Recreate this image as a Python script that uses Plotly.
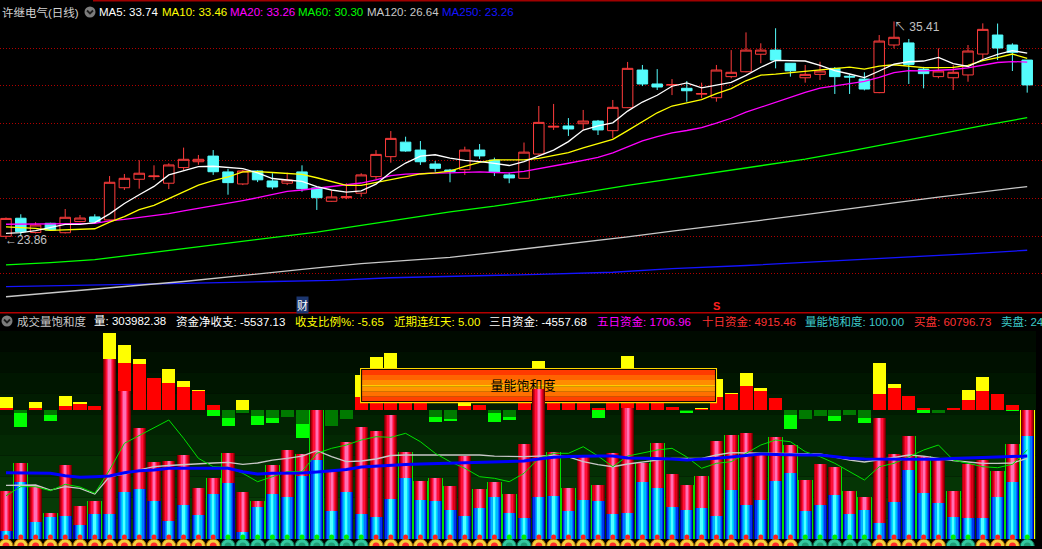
import plotly.graph_objects as go

W, H = 1042, 549
FONT = "Liberation Sans, Noto Sans CJK SC, sans-serif"

# ---------------- price panel ----------------
opens = [24.00, 24.96, 24.20, 24.69, 24.19, 24.78, 25.03, 24.87, 26.58, 27.03,
         27.17, 26.82, 27.65, 27.96, 28.26, 27.42, 26.78, 27.47, 26.94, 26.82,
         27.42, 26.57, 25.86, 26.05, 26.29, 27.17, 28.23, 29.00, 28.58, 27.84,
         27.52, 27.54, 28.58, 28.05, 27.26, 27.08, 28.37, 29.80, 29.86, 29.98,
         30.12, 29.61, 30.83, 32.83, 32.09, 32.03, 31.86, 31.55, 31.36, 32.48,
         32.74, 33.67, 33.89, 33.19, 32.42, 32.60, 32.92, 32.50, 32.35, 31.63,
         34.16, 34.27, 32.88, 32.48, 32.42, 32.57, 33.68, 34.69, 34.16, 33.36]
highs = [25.00, 25.17, 24.75, 24.72, 25.45, 25.13, 25.17, 27.20, 27.31, 28.04,
         27.77, 27.88, 28.71, 28.32, 28.58, 27.58, 27.52, 27.50, 27.35, 27.38,
         27.77, 26.60, 26.42, 26.82, 27.35, 28.58, 29.59, 29.29, 29.06, 28.00,
         27.58, 28.76, 28.90, 28.18, 27.38, 28.98, 30.92, 31.03, 30.28, 30.71,
         30.18, 31.24, 33.26, 33.10, 32.88, 32.35, 32.25, 32.16, 33.10, 33.89,
         34.83, 34.25, 35.05, 33.19, 33.10, 33.27, 32.99, 32.60, 32.71, 34.69,
         35.41, 34.48, 33.00, 33.98, 33.10, 34.16, 35.31, 35.30, 34.25, 33.36]
lows = [23.86, 24.00, 24.15, 24.30, 24.15, 24.75, 24.74, 24.85, 26.46, 26.53,
        26.99, 26.51, 27.52, 27.80, 27.26, 26.21, 26.72, 26.88, 26.50, 26.72,
        26.37, 25.40, 25.84, 25.97, 26.10, 26.99, 27.91, 28.49, 27.79, 27.43,
        26.87, 27.26, 28.11, 27.20, 26.82, 27.06, 28.32, 29.65, 29.33, 29.65,
        29.38, 29.20, 30.81, 31.98, 31.77, 31.50, 31.15, 31.33, 31.15, 32.39,
        32.71, 33.19, 32.92, 32.48, 32.16, 32.30, 31.56, 31.56, 31.75, 31.60,
        33.98, 32.09, 31.86, 32.39, 31.77, 32.21, 33.36, 33.36, 32.78, 31.63]
closes = [24.95, 24.25, 24.60, 24.33, 25.01, 24.97, 24.76, 26.87, 27.08, 27.35,
          27.20, 27.79, 28.09, 28.09, 27.43, 26.85, 27.47, 27.00, 26.62, 26.99,
          26.53, 26.05, 26.09, 26.10, 27.26, 28.35, 29.20, 28.53, 27.96, 27.61,
          27.45, 28.58, 28.27, 27.42, 27.10, 28.47, 30.05, 29.84, 29.70, 30.12,
          29.65, 30.85, 32.92, 32.09, 31.93, 32.06, 31.73, 31.58, 32.83, 32.71,
          33.89, 33.89, 33.36, 32.79, 32.60, 32.78, 32.48, 32.46, 31.82, 34.37,
          34.57, 33.13, 32.64, 32.78, 32.71, 33.84, 34.99, 34.00, 33.77, 32.04]

ma5 = [24.16, 24.20, 24.30, 24.46, 24.63, 24.63, 24.73, 25.19, 25.74, 26.21,
       26.65, 27.26, 27.50, 27.70, 27.72, 27.65, 27.59, 27.37, 27.07, 26.99,
       26.92, 26.64, 26.46, 26.35, 26.41, 26.77, 27.40, 27.89, 28.26, 28.33,
       28.15, 28.03, 27.97, 27.87, 27.76, 27.97, 28.26, 28.58, 29.03, 29.64,
       29.87, 30.03, 30.65, 31.13, 31.49, 31.97, 32.15, 31.88, 32.03, 32.18,
       32.55, 32.98, 33.34, 33.33, 33.31, 33.08, 32.80, 32.62, 32.43, 32.78,
       33.14, 33.27, 33.31, 33.50, 33.17, 33.02, 33.39, 33.66, 33.86, 33.73]
ma10 = [24.50, 24.47, 24.42, 24.32, 24.34, 24.36, 24.40, 24.75, 25.05, 25.42,
        25.64, 26.00, 26.35, 26.72, 26.96, 27.15, 27.42, 27.44, 27.39, 27.35,
        27.29, 27.11, 26.91, 26.71, 26.70, 26.85, 27.02, 27.17, 27.31, 27.37,
        27.46, 27.71, 27.93, 28.06, 28.05, 28.06, 28.14, 28.28, 28.45, 28.70,
        28.92, 29.15, 29.61, 30.08, 30.56, 30.92, 31.09, 31.26, 31.58, 31.84,
        32.26, 32.56, 32.61, 32.68, 32.74, 32.82, 32.89, 32.98, 32.88, 33.04,
        33.11, 33.04, 32.96, 32.96, 32.97, 33.08, 33.33, 33.49, 33.68, 33.45]
ma20 = [24.64, 24.64, 24.64, 24.65, 24.66, 24.67, 24.69, 24.82, 24.90, 25.00,
        25.10, 25.20, 25.35, 25.48, 25.62, 25.75, 25.90, 26.05, 26.20, 26.39,
        26.46, 26.55, 26.63, 26.72, 26.83, 27.00, 27.22, 27.30, 27.35, 27.36,
        27.37, 27.41, 27.42, 27.39, 27.37, 27.45, 27.58, 27.72, 27.88, 28.03,
        28.19, 28.43, 28.77, 29.07, 29.30, 29.49, 29.62, 29.77, 30.01, 30.27,
        30.59, 30.86, 31.11, 31.38, 31.65, 31.87, 31.99, 32.12, 32.23, 32.44,
        32.69, 32.80, 32.79, 32.82, 32.86, 32.95, 33.11, 33.23, 33.28, 33.25]

long_idx = [0, 3, 6, 9, 12, 15, 18, 21, 24, 27, 30, 33, 36, 39, 42, 45, 48, 51, 54, 57, 60, 63, 66, 69]
ma60 = [22.48, 22.60, 22.76, 23.05, 23.35, 23.62, 23.95, 24.22, 24.58, 24.95, 25.30, 25.60,
        25.95, 26.32, 26.70, 27.05, 27.40, 27.75, 28.10, 28.52, 28.98, 29.45, 29.88, 30.30]
ma120 = [20.79, 20.98, 21.20, 21.40, 21.60, 21.85, 22.10, 22.32, 22.55, 22.70, 22.88, 23.15,
         23.42, 23.68, 23.97, 24.27, 24.55, 24.85, 25.15, 25.48, 25.78, 26.08, 26.35, 26.64]
ma250_idx = [0, 6, 12, 18, 22, 26, 32, 36, 41, 45, 50, 55, 60, 65, 69]
ma250 = [21.33, 21.40, 21.50, 21.60, 21.66, 21.80, 21.89, 21.98, 22.09, 22.28, 22.45, 22.65,
         22.85, 23.07, 23.26]

# ---------------- volume panel (万手) ----------------
vol = [11.31, 17.91, 12.49, 6.13, 17.43, 7.77, 8.95, 42.41, 34.87, 26.08,
       18.14, 18.38, 19.79, 12.02, 14.37, 20.26, 11.07, 8.95, 17.43, 20.97,
       20.03, 30.39, 15.86, 22.85, 26.39, 25.44, 29.21, 20.50, 13.66, 14.37,
       12.49, 19.63, 11.78, 13.43, 10.67, 22.38, 35.34, 20.50, 12.02, 19.39,
       12.72, 20.26, 30.86, 17.91, 22.62, 15.31, 12.72, 14.84, 23.09, 24.50,
       24.97, 19.86, 24.03, 22.15, 13.90, 17.67, 16.96, 11.31, 9.90, 28.51,
       20.03, 24.27, 19.55, 19.08, 11.31, 17.67, 18.61, 16.02, 22.38, 30.40]
sell = [1.96, 13.50, 4.08, 5.25, 5.49, 3.30, 5.96, 5.96, 11.14, 11.78,
        8.95, 4.24, 8.01, 5.65, 10.67, 13.19, 1.72, 7.54, 10.67, 9.90,
        14.91, 18.61, 6.60, 11.07, 5.89, 5.18, 9.42, 14.44, 9.19, 8.95,
        6.83, 5.42, 7.37, 9.97, 6.20, 5.02, 9.90, 10.20, 6.60, 9.19,
        8.95, 5.96, 6.20, 13.50, 12.09, 7.54, 6.83, 7.30, 5.49, 11.54,
        8.01, 9.19, 13.66, 15.55, 6.60, 8.01, 10.37, 5.89, 6.83, 3.77,
        8.72, 16.33, 10.84, 8.48, 5.18, 4.95, 4.95, 9.90, 13.50, 24.32]
vol_ma_blue = [15.62, 15.62, 15.62, 15.48, 14.91, 14.54, 14.68, 14.84, 15.62, 16.09,
               16.26, 16.66, 16.66, 16.66, 16.66, 16.66, 15.86, 15.31, 15.48, 15.48,
               15.55, 15.79, 16.09, 16.37, 16.96, 17.20, 17.43, 17.55, 17.67, 17.79,
               17.91, 18.02, 18.14, 18.26, 18.33, 18.38, 18.85, 19.25, 19.44, 19.55,
               19.55, 19.55, 19.08, 19.01, 19.01, 18.85, 18.61, 18.73, 19.01, 19.32,
               19.67, 20.03, 19.91, 19.79, 19.79, 19.79, 19.32, 19.01, 18.85, 18.85,
               18.85, 18.85, 18.85, 18.78, 18.97, 19.08, 19.15, 19.32, 19.44, 19.55]
vol_ma_gray = [12.65, 12.65, 12.72, 11.54, 12.32, 11.94, 10.60, 14.68, 15.31, 16.26,
               17.03, 17.32, 17.55, 17.83, 17.91, 18.07, 17.60, 17.91, 18.61, 19.01,
               19.55, 20.80, 19.39, 18.21, 18.38, 18.85, 19.67, 19.79, 19.79, 19.79,
               19.86, 19.96, 19.79, 19.55, 19.44, 19.39, 19.55, 19.72, 19.32, 18.21,
               17.55, 17.03, 17.67, 18.21, 18.61, 19.01, 18.97, 19.01, 19.79, 20.33,
               20.26, 20.19, 20.14, 20.10, 20.03, 20.03, 19.32, 18.61, 18.14, 18.61,
               19.20, 19.79, 19.55, 18.97, 18.45, 18.14, 17.83, 17.83, 17.91, 19.01]
vol_ma_green = [10.20, 12.32, 12.32, 11.38, 12.89, 12.25, 10.77, 16.26, 22.55, 24.34,
                26.08, 28.04, 23.72, 19.01, 17.03, 16.89, 15.48, 13.50, 14.68, 15.86,
                15.86, 20.19, 21.37, 22.15, 23.32, 24.10, 23.96, 24.90, 22.92, 20.19,
                18.21, 16.66, 14.68, 14.30, 13.50, 15.48, 19.01, 20.19, 20.19, 21.75,
                19.55, 17.03, 19.55, 20.33, 20.97, 21.37, 19.32, 16.66, 17.83, 18.21,
                20.19, 22.15, 23.32, 22.92, 20.57, 19.39, 17.83, 15.86, 13.90, 17.03,
                17.83, 19.39, 20.97, 22.15, 18.61, 17.83, 17.03, 16.80, 17.60, 20.97]

# fund flow (资金), two series around a common baseline
flow_net = [150, -300, 150, -500, 400, 600, 400, 4000, 4700, 4600,
            3200, 2730, 2300, 1900, 500, -800, -300, -600, -800, -700,
            -1400, -1000, -1600, -900, 1330, 2500, 2500, 1500, 1200, -730,
            -870, 430, 500, -270, -730, 1000, 3000, 1200, 1000, 1000,
            200, 1200, 3000, 1200, 1200, 300, -100, 50, 1330, 1600,
            2400, 1900, 1200, -500, -900, -600, -570, -500, -800, 1600,
            2200, 1400, 200, -300, 200, 1000, 1900, 1600, 500, -5537]
flow_aux = [1300, -1670, 800, -1070, 1400, 830, 0, 7670, 6500, 5100,
            0, 4100, 2900, 2000, -600, -1600, 1000, -1500, -1300, 0,
            -2770, 0, 0, 0, 3500, 5330, 5700, 0, 0, -1170,
            -1070, 1000, 0, -1170, -1000, 0, 4930, 0, 0, 0,
            -800, 0, 5400, 0, 0, 0, -300, 150, 3100, 1730,
            3700, 2200, 0, -1900, 0, 0, -1100, 0, -1300, 4700,
            2600, 0, -300, 0, 250, 2000, 3300, 0, -100, 0]

# days whose volume bar has a green edge, and the marker row state (1 = red, 0 = green)
down_days = [1, 3, 5, 6, 14, 15, 17, 18, 20, 21, 27, 28, 29, 30, 32, 33, 34, 37, 38, 40,
             43, 44, 46, 47, 49, 52, 53, 54, 56, 57, 58, 61, 62, 64, 67, 68]
trend = [1, 1, 1, 1, 1, 1, 1, 1, 1, 1, 1, 1, 1, 1, 1, 0, 0, 0, 0, 0,
         0, 0, 0, 0, 0, 1, 1, 1, 1, 1, 1, 1, 1, 1, 0, 0, 1, 1, 1, 1,
         1, 1, 1, 1, 1, 1, 1, 1, 1, 1, 1, 1, 1, 1, 0, 0, 0, 0, 0, 1,
         1, 1, 1, 1, 0, 0, 1, 1, 1, 0]

days = list(range(len(closes)))


def fx(p):
    return p / W


def fy(p):
    return 1 - p / H


fig = go.Figure()

# ---- candles + moving averages ----
fig.add_trace(go.Candlestick(
    x=days, open=opens, high=highs, low=lows, close=closes,
    increasing=dict(line=dict(color="#ff3c3c", width=1), fillcolor="#000000"),
    decreasing=dict(line=dict(color="#54fcfc", width=1), fillcolor="#54fcfc"),
    whiskerwidth=0, xaxis="x", yaxis="y"))

for xs, vals, color in [(ma250_idx, ma250, "#1414ff"), (long_idx, ma120, "#c8c8c8"),
                        (long_idx, ma60, "#00ff00"), (days, ma20, "#ff00ff"),
                        (days, ma10, "#ffff00"), (days, ma5, "#ffffff")]:
    fig.add_trace(go.Scatter(x=xs, y=vals, mode="lines", line=dict(color=color, width=1.3),
                             xaxis="x", yaxis="y"))

# ---- fund flow bars (behind everything else in the lower panel) ----
fig.add_trace(go.Bar(x=days, y=flow_aux, width=0.88,
                     marker=dict(color=["#ffff00" if v >= 0 else "#00ff00" for v in flow_aux], line_width=0),
                     xaxis="x2", yaxis="y2"))
fig.add_trace(go.Bar(x=days, y=flow_net, width=0.88,
                     marker=dict(color=["#ff0000" if v >= 0 else "#007a00" for v in flow_net], line_width=0),
                     xaxis="x2", yaxis="y2"))

# ---- the orange label box ----
box_l, box_r = 23.92, 48.04


def rect(x0, x1, y0, y1, color):
    fig.add_trace(go.Scatter(x=[x0, x1, x1, x0, x0], y=[y0, y0, y1, y1, y0], mode="lines",
                             fill="toself", fillcolor=color, line=dict(width=0, color=color),
                             xaxis="x2", yaxis="y2"))


rect(box_l, box_r, 680, 4200, "#ffd800")
rect(box_l + 0.07, box_r - 0.07, 790, 4100, "#140800")
stripes = [(3500, 4000, "#ff3a00"), (3000, 3500, "#ff6400"), (2500, 3000, "#ff8c00"),
           (2330, 2500, "#ffcc00"), (1830, 2330, "#ff9400"), (1330, 1830, "#ff7000"),
           (900, 1330, "#ff4000")]
for y0, y1, c in stripes:
    rect(box_l + 0.14, box_r - 0.14, y0, y1, c)
fig.add_trace(go.Scatter(x=[34.93], y=[2300], mode="text", text=["量能饱和度"],
                         textfont=dict(size=13, color="#000000", family="Noto Sans CJK SC"),
                         xaxis="x2", yaxis="y2"))

# ---- volume cylinders ----
fig.add_trace(go.Bar(x=down_days, y=[vol[i] for i in down_days], width=0.99,
                     marker=dict(color="#00e000", line_width=0), xaxis="x2", yaxis="y3"))
fig.add_trace(go.Bar(x=[days[-1]], y=[vol[-1]], width=0.99,
                     marker=dict(color="#ffff00", line_width=0), xaxis="x2", yaxis="y3"))
red_layers = [(0.88, "#6e0000"), (0.76, "#a8000c"), (0.62, "#dc0018"),
              (0.46, "#ff1038"), (0.30, "#ff3c78"), (0.15, "#ff70b4")]
blue_layers = [(0.88, "#0000a8"), (0.74, "#0038f0"), (0.58, "#0078ff"),
               (0.42, "#00b4ff"), (0.26, "#00e0ff"), (0.12, "#50ffff")]
for w, c in red_layers:
    fig.add_trace(go.Bar(x=days, y=vol, width=w, marker=dict(color=c, line_width=0),
                         xaxis="x2", yaxis="y3"))
for w, c in blue_layers:
    fig.add_trace(go.Bar(x=days, y=sell, width=w, marker=dict(color=c, line_width=0),
                         xaxis="x2", yaxis="y3"))

fig.add_trace(go.Scatter(x=days, y=vol_ma_gray, mode="lines", line=dict(color="#c8c8c8", width=1.3),
                         xaxis="x2", yaxis="y3"))
fig.add_trace(go.Scatter(x=days, y=vol_ma_green, mode="lines", line=dict(color="#00e000", width=1),
                         xaxis="x2", yaxis="y3"))
fig.add_trace(go.Scatter(x=days, y=vol_ma_blue, mode="lines", line=dict(color="#0000ff", width=3),
                         xaxis="x2", yaxis="y3"))

# ---- marker row under the bars ----
zero_row = [0] * len(days)
fig.add_trace(go.Scatter(x=days, y=zero_row, mode="markers",
                         marker=dict(size=14, color=["#f2d040" if t else "#34c8a0" for t in trend],
                                     line=dict(width=1, color=["#b07000" if t else "#107050" for t in trend])),
                         xaxis="x2", yaxis="y4"))
fig.add_trace(go.Scatter(x=days, y=zero_row, mode="markers",
                         marker=dict(size=7, color=["#ff2a2a" if t else "#1e9c74" for t in trend], line_width=0),
                         xaxis="x2", yaxis="y4"))
fig.add_trace(go.Scatter(x=days, y=[9] * len(days), mode="markers",
                         marker=dict(size=5, color=["#ff2020" if t else "#00f000" for t in trend], line_width=0),
                         xaxis="x2", yaxis="y4"))

# ---- backgrounds / frame ----
shapes = []
band_colors = ["#000a00", "#001000", "#001600", "#011c01", "#022302", "#032903",
               "#042f04", "#053505", "#073b07", "#084108"]
band_h = (539 - 331) / len(band_colors)
for i, c in enumerate(band_colors):
    shapes.append(dict(type="rect", xref="paper", yref="paper", x0=0, x1=fx(1036),
                       y0=fy(331 + (i + 1) * band_h), y1=fy(331 + i * band_h),
                       fillcolor=c, line_width=0, layer="below"))
shapes.append(dict(type="line", xref="paper", yref="paper", x0=fx(93), x1=1, y0=fy(0.7), y1=fy(0.7),
                   line=dict(color="#a00000", width=1.5)))
shapes.append(dict(type="line", xref="paper", yref="paper", x0=0, x1=1, y0=fy(312.8), y1=fy(312.8),
                   line=dict(color="#b40000", width=1.5)))
for cx, cy in [(90, 12), (7, 321)]:
    shapes.append(dict(type="circle", xref="paper", yref="paper", x0=fx(cx - 5.5), x1=fx(cx + 5.5),
                       y0=fy(cy + 5.5), y1=fy(cy - 5.5), fillcolor="#7c7c7c", line_width=0))
    shapes.append(dict(type="path", xref="paper", yref="paper",
                       path="M {} {} L {} {} L {} {}".format(fx(cx - 3), fy(cy - 1.5), fx(cx), fy(cy + 1.5),
                                                             fx(cx + 3), fy(cy - 1.5)),
                       line=dict(color="#1c1c1c", width=1.8)))

# ---- texts ----
annotations = []


def label(x, y, text, color, bg=None, size=11.5):
    a = dict(xref="paper", yref="paper", x=fx(x), y=fy(y), xanchor="left", yanchor="middle",
             text=text, showarrow=False, font=dict(family=FONT, size=size, color=color))
    if bg:
        a["bgcolor"] = bg
    annotations.append(a)


label(0, 12, "许继电气(日线)", "#d2d2d2", bg="#000000")
top_items = [(97, "MA5: 33.74", "#ffffff"), (160, "MA10: 33.46", "#ffff00"),
             (228, "MA20: 33.26", "#ff00ff"), (296, "MA60: 30.30", "#00ff00"),
             (365, "MA120: 26.64", "#c8c8c8"), (440, "MA250: 23.26", "#1414ff")]
for x, t, c in top_items:
    label(x, 12, t, c)

bottom_items = [(15, "成交量饱和度", "#c8c8c8"), (92, "量: 303982.38", "#ffffff"),
                (174, "资金净收支: -5537.13", "#ffffff"), (293, "收支比例%: -5.65", "#ffff00"),
                (392, "近期连红天: 5.00", "#ffff00"), (487, "三日资金: -4557.68", "#ffffff"),
                (595, "五日资金: 1706.96", "#ff00ff"), (700, "十日资金: 4915.46", "#ff3232"),
                (803, "量能饱和度: 100.00", "#3cc8c8"), (912, "买盘: 60796.73", "#ff3232"),
                (999, "卖盘: 24", "#3cc8c8")]
for x, t, c in bottom_items:
    label(x, 321, t, c)

label(3, 240, "←23.86", "#c0c0c0", size=12)
label(892, 27, "↖ 35.41", "#c0c0c0", size=12)

annotations.append(dict(xref="x", yref="paper", x=20, y=fy(305), text="财", showarrow=False,
                        bgcolor="#1c3670", borderpad=0,
                        font=dict(family="Noto Sans CJK SC", size=11, color="#ffffff")))
annotations.append(dict(xref="x", yref="paper", x=48, y=fy(306), text="<b>S</b>", showarrow=False,
                        font=dict(family=FONT, size=11, color="#ff2020")))

fig.update_layout(
    width=W, height=H, margin=dict(l=0, r=0, t=0, b=0),
    paper_bgcolor="#000000", plot_bgcolor="rgba(0,0,0,0)",
    showlegend=False, barmode="overlay", bargap=0, hovermode=False,
    boxgap=0, boxgroupgap=0.29,
    shapes=shapes, annotations=annotations,
    xaxis=dict(domain=[0, 1], range=[-0.405, 70.0], visible=False,
               rangeslider=dict(visible=False), anchor="y"),
    yaxis=dict(domain=[fy(312), 1], range=[19.98, 36.55], tickvals=[22, 24, 26, 28, 30, 32, 34],
               showgrid=True, gridcolor="#b00000", griddash="1px,2px", gridwidth=1,
               showticklabels=False, zeroline=False, ticks="", showline=False, anchor="x"),
    xaxis2=dict(domain=[0, fx(1036)], range=[-0.405, 69.59], visible=False, anchor="y2"),
    yaxis2=dict(domain=[0, fy(313)], range=[-13900, 9700], visible=False, anchor="x2"),
    yaxis3=dict(overlaying="y2", range=[-2.356, 53.25], visible=False, anchor="x2"),
    yaxis4=dict(domain=[fy(546), fy(533)], range=[0, 13], visible=False, anchor="x2"),
)

fig.write_html("out.html", config={"displayModeBar": False},
               post_script="document.body.style.margin='0';document.body.style.overflow='hidden';")
